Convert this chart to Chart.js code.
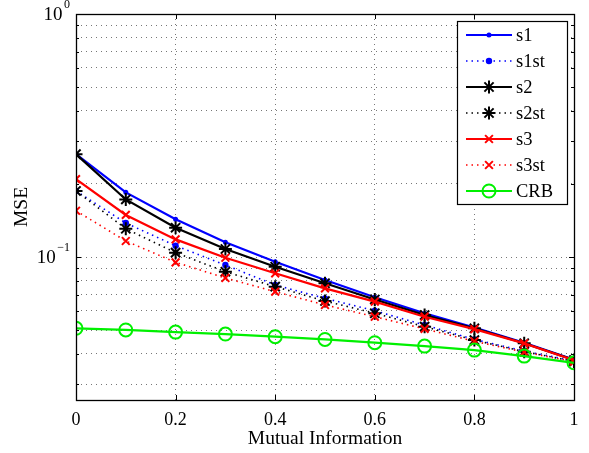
<!DOCTYPE html>
<html>
<head>
<meta charset="utf-8">
<script src="https://cdn.jsdelivr.net/npm/chart.js@4.4.1/dist/chart.umd.min.js"></script>
<style>
  html, body { margin: 0; padding: 0; background: #fff; }
  #wrap { width: 589px; height: 453px; position: relative; }
</style>
</head>
<body>
<div id="wrap"><canvas id="mseChart" width="589" height="453"></canvas></div>
<script>
// x values (mutual information)
const mutualInfo = [0, 0.1, 0.2, 0.3, 0.4, 0.5, 0.6, 0.7, 0.8, 0.9, 1];

// MSE series
const s1   = [0.265, 0.1845, 0.143, 0.1149, 0.0957, 0.0804, 0.0683, 0.0586, 0.0512, 0.0444, 0.0378];
const s1st = [0.187, 0.138, 0.1113, 0.0927, 0.0767, 0.0676, 0.0601, 0.0525, 0.0458, 0.0410, 0.0374];
const s2   = [0.265, 0.1725, 0.132, 0.1079, 0.0912, 0.078, 0.0669, 0.0577, 0.0509, 0.0442, 0.0377];
const s2st = [0.187, 0.1307, 0.1042, 0.087, 0.0755, 0.0659, 0.0587, 0.0517, 0.0455, 0.0408, 0.0372];
const s3   = [0.209, 0.149, 0.1182, 0.0993, 0.0857, 0.0743, 0.0655, 0.0568, 0.0505, 0.0441, 0.0376];
const s3st = [0.155, 0.1164, 0.0951, 0.082, 0.072, 0.0635, 0.0568, 0.0506, 0.045, 0.0406, 0.0371];
const crb  = [0.0509, 0.0501, 0.0491, 0.0482, 0.047, 0.0458, 0.0444, 0.043, 0.0414, 0.0391, 0.0367];

// axis ticks
const xTicks = [0, 0.2, 0.4, 0.6, 0.8, 1];
const yTicks = [0.03, 0.04, 0.05, 0.06, 0.07, 0.08, 0.09, 0.1, 0.2, 0.3, 0.4, 0.5, 0.6, 0.7, 0.8, 0.9, 1];
const yMajor = [0.1, 1];
const yMajorExp = ['\u22121', '0'];
const yMin = 0.0258;
const yMax = 1;

const serif = '"Liberation Serif", "Times New Roman", serif';

function toPoints(values) {
    return mutualInfo.map((x, i) => ({ x: x, y: values[i] }));
}

function series(label, values, color, dotted, pointStyle, radius) {
    return {
        label: label,
        data: toPoints(values),
        borderColor: color,
        backgroundColor: color,
        borderWidth: dotted ? 1.6 : 2.2,
        borderDash: dotted ? [1.5, 4] : [],
        pointStyle: pointStyle,
        pointRadius: radius,
        pointBorderColor: color,
        pointBackgroundColor: pointStyle === 'circle' && radius > 3 ? 'rgba(0,0,0,0)' : color,
        pointBorderWidth: 2,
        tension: 0
    };
}

const datasets = [
    series('s1', s1, '#0000ff', false, 'circle', 1.5),
    series('s1st', s1st, '#0000ff', true, 'circle', 2.2),
    series('s2', s2, '#000000', false, 'star', 6.5),
    series('s2st', s2st, '#000000', true, 'star', 6.5),
    series('s3', s3, '#ff0000', false, 'crossRot', 5.5),
    series('s3st', s3st, '#ff0000', true, 'crossRot', 5.5),
    series('CRB', crb, '#00f000', false, 'circle', 6.5)
];
// later series on top, like the original
datasets.forEach((d, i) => { d.order = datasets.length - i; });

// frame, inward ticks, y labels with exponents, legend box
const decorations = {
    id: 'decorations',
    afterDraw(chart) {
        const ctx = chart.ctx;
        const area = chart.chartArea;
        const xs = chart.scales.x;
        const ys = chart.scales.y;
        ctx.save();

        // inward tick marks
        ctx.strokeStyle = '#000';
        ctx.lineWidth = 1;
        ctx.beginPath();
        xTicks.forEach(v => {
            const px = Math.round(xs.getPixelForValue(v)) + 0.5;
            ctx.moveTo(px, area.bottom); ctx.lineTo(px, area.bottom - 5);
            ctx.moveTo(px, area.top); ctx.lineTo(px, area.top + 5);
        });
        yTicks.forEach(v => {
            const py = Math.round(ys.getPixelForValue(v)) + 0.5;
            const len = yMajor.includes(v) ? 5 : 3;
            ctx.moveTo(area.left, py); ctx.lineTo(area.left + len, py);
            ctx.moveTo(area.right, py); ctx.lineTo(area.right - len, py);
        });
        ctx.stroke();

        // frame
        ctx.lineWidth = 1.3;
        ctx.strokeRect(Math.round(area.left) + 0.5, Math.round(area.top) + 0.5,
            Math.round(area.right - area.left), Math.round(area.bottom - area.top));

        // y labels 10^0, 10^-1
        ctx.fillStyle = '#000';
        ctx.textBaseline = 'middle';
        ctx.textAlign = 'left';
        yMajor.forEach((v, i) => {
            const py = ys.getPixelForValue(v);
            ctx.font = '19px ' + serif;
            const wBase = ctx.measureText('10').width;
            ctx.font = '12px ' + serif;
            const wExp = ctx.measureText(yMajorExp[i]).width;
            const x0 = area.left - 6 - wBase - wExp - 1.5;
            ctx.font = '19px ' + serif;
            ctx.fillText('10', x0, py + 1);
            ctx.font = '12px ' + serif;
            ctx.fillText(yMajorExp[i], x0 + wBase + 1.5, py - 9);
        });

        // legend
        const bx = 457, by = 21, bw = 110, bh = 183;
        ctx.fillStyle = '#fff';
        ctx.fillRect(bx, by, bw, bh);
        ctx.strokeStyle = '#000';
        ctx.lineWidth = 1.2;
        ctx.strokeRect(bx + 0.5, by + 0.5, bw, bh);
        chart.data.datasets.forEach((d, i) => {
            const cy = 35 + i * 26;
            ctx.save();
            ctx.strokeStyle = d.borderColor;
            ctx.lineWidth = d.borderWidth;
            ctx.setLineDash(d.borderDash);
            ctx.beginPath();
            ctx.moveTo(466, cy); ctx.lineTo(512, cy);
            ctx.stroke();
            ctx.setLineDash([]);
            ctx.strokeStyle = d.pointBorderColor;
            ctx.fillStyle = d.pointBackgroundColor;
            ctx.lineWidth = d.pointBorderWidth;
            Chart.helpers.drawPoint(ctx, {
                pointStyle: d.pointStyle,
                radius: d.pointRadius,
                rotation: 0,
                borderWidth: d.pointBorderWidth
            }, 489, cy);
            ctx.restore();
            ctx.fillStyle = '#000';
            ctx.font = '18.5px ' + serif;
            ctx.textBaseline = 'middle';
            ctx.fillText(d.label, 516, cy + 1);
        });
        ctx.restore();
    }
};

const gridDots = { color: '#777', lineWidth: 1, drawTicks: false };

new Chart(document.getElementById('mseChart'), {
    type: 'line',
    data: { datasets: datasets },
    options: {
        responsive: false,
        animation: false,
        layout: { padding: { top: 14, right: 15, left: 0, bottom: 0 } },
        plugins: { legend: { display: false }, tooltip: { enabled: false } },
        scales: {
            x: {
                type: 'linear',
                min: 0,
                max: 1,
                grid: gridDots,
                border: { display: false, dash: [1, 4] },
                afterBuildTicks: s => { s.ticks = xTicks.map(v => ({ value: v })); },
                afterFit: s => { s.height = 53; },
                ticks: {
                    color: '#000',
                    padding: 9,
                    maxRotation: 0,
                    font: { family: serif, size: 18 },
                    callback: v => String(v)
                },
                title: {
                    display: true,
                    text: 'Mutual Information',
                    color: '#000',
                    font: { family: serif, size: 19.5 },
                    padding: { top: 0, bottom: 2 }
                }
            },
            y: {
                type: 'logarithmic',
                min: yMin,
                max: yMax,
                grid: gridDots,
                border: { display: false, dash: [1, 4] },
                afterBuildTicks: s => { s.ticks = yTicks.map(v => ({ value: v })); },
                afterFit: s => { s.width = 76; },
                ticks: { display: false },
                title: {
                    display: true,
                    text: 'MSE',
                    color: '#000',
                    font: { family: serif, size: 19.5 },
                    padding: { top: 10, bottom: 0 }
                }
            }
        }
    },
    plugins: [decorations]
});
</script>
</body>
</html>
